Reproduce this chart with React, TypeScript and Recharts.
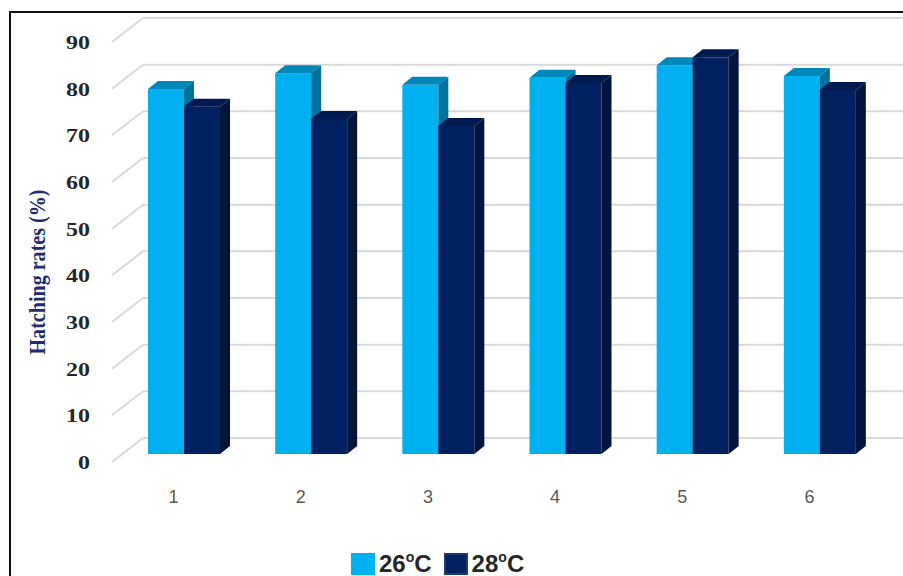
import { BarChart, Bar, XAxis, YAxis, CartesianGrid } from 'recharts';

const categories = ['1', '2', '3', '4', '5', '6'];
const rate26 = [78.2, 81.6, 79.1, 80.6, 83.3, 81.0];
const rate28 = [74.4, 71.8, 70.3, 79.5, 85.0, 78.0];
const yTicks = [0, 10, 20, 30, 40, 50, 60, 70, 80, 90];

const series = [
  { key: 'c26', label: '26', front: '#00B0F0', top: '#0087B9', side: '#00729D', border: '#00B0F0' },
  { key: 'c28', label: '28', front: '#002060', top: '#001A50', side: '#00143E', border: '#1B3A70' },
];

const data = categories.map((name, i) => ({ name, c26: rate26[i], c28: rate28[i] }));

// depth offsets for the fake 3D look
const BAR_DX = 10;
const BAR_DY = 8;

function make3DBar(front: string, top: string, side: string) {
  return (props: any) => {
    const { x, y, width, height } = props;
    if (height == null || width == null) return <g />;
    return (
      <g>
        <rect x={x} y={y} width={width} height={height} fill={front} />
        <polygon
          points={`${x},${y} ${x + BAR_DX},${y - BAR_DY} ${x + width + BAR_DX},${y - BAR_DY} ${x + width},${y}`}
          fill={top}
        />
        <polygon
          points={`${x + width},${y} ${x + width + BAR_DX},${y - BAR_DY} ${x + width + BAR_DX},${y + height - BAR_DY} ${x + width},${y + height}`}
          fill={side}
        />
      </g>
    );
  };
}

// back wall gridline + diagonal on the left side wall
function GridLine(props: any) {
  const { y1 } = props;
  return (
    <g key={props.key}>
      <line x1={112} y1={y1 + 8} x2={143} y2={y1 - 16} stroke="#D9D9D9" strokeWidth={2} />
      <line x1={143} y1={y1 - 16} x2={903} y2={y1 - 16} stroke="#D9D9D9" strokeWidth={2} />
    </g>
  );
}

function YTick(props: any) {
  const { y, payload } = props;
  const txt = String(payload.value);
  return (
    <text
      x={90}
      y={y + 8}
      dy={7}
      textAnchor="end"
      fontFamily="'Liberation Serif', serif"
      fontWeight="bold"
      fontSize={19}
      fill="#262626"
      textLength={txt.length * 12}
      lengthAdjust="spacingAndGlyphs"
    >
      {txt}
    </text>
  );
}

function XTick(props: any) {
  const { x, y, payload } = props;
  return (
    <text
      x={x - 10}
      y={y + 41}
      textAnchor="middle"
      fontFamily="'Liberation Sans', sans-serif"
      fontSize={18}
      fill="#595959"
    >
      {payload.value}
    </text>
  );
}

function YTitle() {
  return (
    <text
      x={37}
      y={272}
      transform="rotate(-90 37 272)"
      textAnchor="middle"
      dominantBaseline="central"
      fontFamily="'Liberation Serif', serif"
      fontWeight="bold"
      fontSize={23}
      fill="#1F2D6E"
      textLength={165}
      lengthAdjust="spacingAndGlyphs"
    >
      Hatching rates (%)
    </text>
  );
}

export default function App() {
  return (
    <div style={{ position: 'relative', width: 903, height: 576, overflow: 'hidden', background: '#fff' }}>
      <style>{'body{margin:0}'}</style>
      <div
        style={{
          position: 'absolute',
          left: 9,
          top: 11,
          width: 1000,
          height: 700,
          borderLeft: '2px solid #111',
          borderTop: '2px solid #111',
        }}
      />
      <BarChart
        width={903}
        height={576}
        data={data}
        margin={{ top: 34, right: 20, bottom: 0, left: 0 }}
        barGap={0}
        barCategoryGap={27}
        style={{ position: 'absolute', left: 0, top: 0 }}
      >
        <CartesianGrid vertical={false} horizontal={GridLine} />
        <XAxis dataKey="name" height={122} axisLine={false} tickLine={false} tick={XTick} interval={0} />
        <YAxis
          domain={[0, 90]}
          ticks={yTicks}
          width={120}
          axisLine={false}
          tickLine={false}
          tick={YTick}
          label={<YTitle />}
        />
        {series.map((s) => (
          <Bar
            key={s.key}
            dataKey={s.key}
            barSize={36}
            isAnimationActive={false}
            shape={make3DBar(s.front, s.top, s.side)}
          />
        ))}
      </BarChart>
      <div
        style={{
          position: 'absolute',
          left: 351,
          top: 550,
          display: 'flex',
          alignItems: 'center',
          fontFamily: "'Liberation Sans', sans-serif",
          fontWeight: 'bold',
          fontSize: 24,
          color: '#262626',
        }}
      >
        {series.map((s, i) => (
          <span key={s.key} style={{ display: 'flex', alignItems: 'center', marginLeft: i ? 12 : 0 }}>
            <span
              style={{
                display: 'inline-block',
                width: 24,
                height: 22,
                background: s.front,
                border: `2px solid ${s.border}`,
                boxSizing: 'border-box',
                marginRight: 4,
              }}
            />
            <span>
              {s.label}
              <sup style={{ fontSize: 14, verticalAlign: 'top', lineHeight: 1 }}>o</sup>C
            </span>
          </span>
        ))}
      </div>
    </div>
  );
}
